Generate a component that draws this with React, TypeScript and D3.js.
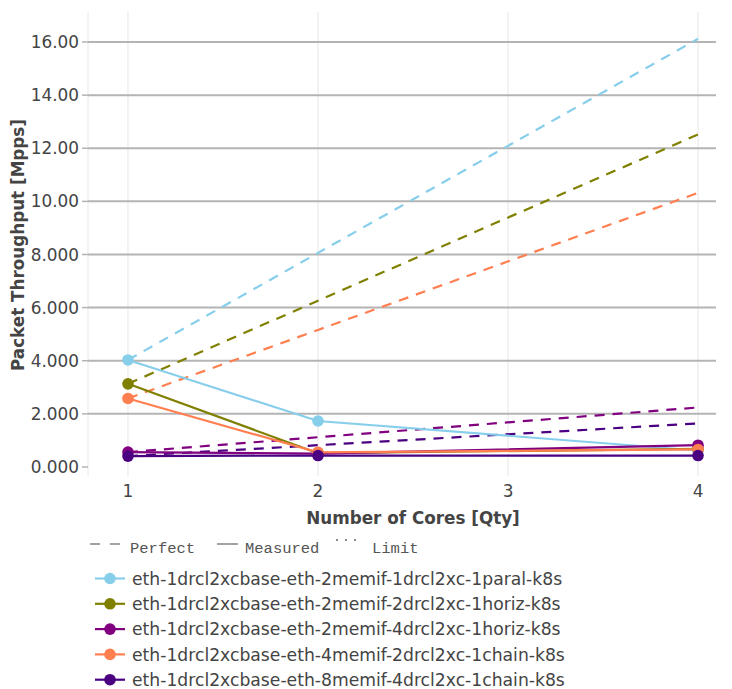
import React from "react";
import * as d3 from "d3";

const cores = [1, 2, 4];
const seriesNames = [
  "eth-1drcl2xcbase-eth-2memif-1drcl2xc-1paral-k8s",
  "eth-1drcl2xcbase-eth-2memif-2drcl2xc-1horiz-k8s",
  "eth-1drcl2xcbase-eth-2memif-4drcl2xc-1horiz-k8s",
  "eth-1drcl2xcbase-eth-4memif-2drcl2xc-1chain-k8s",
  "eth-1drcl2xcbase-eth-8memif-4drcl2xc-1chain-k8s",
];
const seriesColors = ["#87CEEB", "#808000", "#800080", "#FF7F50", "#4B0082"];

const measuredParal = [4.03, 1.73, 0.62];
const measured2Horiz = [3.13, 0.52, 0.68];
const measured4Horiz = [0.56, 0.5, 0.82];
const measured4Chain = [2.58, 0.55, 0.66];
const measured8Chain = [0.41, 0.43, 0.43];

const perfectParal = [4.03, 8.06, 16.12];
const perfect2Horiz = [3.13, 6.26, 12.52];
const perfect4Horiz = [0.56, 1.12, 2.24];
const perfect4Chain = [2.58, 5.16, 10.32];
const perfect8Chain = [0.41, 0.82, 1.64];

const measuredAll = [measuredParal, measured2Horiz, measured4Horiz, measured4Chain, measured8Chain];
const perfectAll = [perfectParal, perfect2Horiz, perfect4Horiz, perfect4Chain, perfect8Chain];

const yTickValues = [0, 2, 4, 6, 8, 10, 12, 14, 16];
const yTickLabels = ["0.000", "2.000", "4.000", "6.000", "8.000", "10.00", "12.00", "14.00", "16.00"];
const xTickValues = [1, 2, 3, 4];
const xTickLabels = ["1", "2", "3", "4"];

const W = 732;
const H = 689;
const PL = 88, PR = 716, PT = 12, PB = 476;

export default function App() {
  const x = d3.scaleLinear().domain([0.7895, 4.0947]).range([PL, PR]);
  const y = d3.scaleLinear().domain([-0.34, 17.13]).range([PB, PT]);
  const line = d3
    .line<number>()
    .x((_, i) => x(cores[i]))
    .y((d) => y(d));

  const font = "'DejaVu Sans', sans-serif";
  const mono = "'Liberation Mono', monospace";
  const legendY0 = 578.5;
  const legendStep = 25.3;

  return (
    <svg
      width={W}
      height={H}
      style={{ position: "absolute", left: 0, top: 0, background: "#fff" }}
    >
      <defs>
        <clipPath id="plotclip">
          <rect x={PL} y={PT} width={PR - PL} height={PB - PT} />
        </clipPath>
      </defs>
      {/* vertical grid */}
      <line x1={PL} x2={PL} y1={PT} y2={PB} stroke="#e8e8e8" strokeWidth={1} />
      {xTickValues.map((v) => (
        <line key={"vx" + v} x1={x(v)} x2={x(v)} y1={PT} y2={PB} stroke="#e6e6e6" strokeWidth={1} />
      ))}
      {/* horizontal grid */}
      {yTickValues.map((v) =>
        v === 0 ? null : (
          <line key={"gy" + v} x1={PL} x2={PR} y1={y(v)} y2={y(v)} stroke="#b4b4b4" strokeWidth={2} />
        )
      )}
      {yTickValues.map((v) => (
        <line key={"ty" + v} x1={PL - 6} x2={PL} y1={y(v)} y2={y(v)} stroke="#b4b4b4" strokeWidth={1.5} />
      ))}
      {yTickValues.map((v, i) => (
        <text
          key={"yl" + v}
          x={79}
          y={y(v)}
          dy="0.36em"
          textAnchor="end"
          fontFamily={font}
          fontSize={16.9}
          fill="#444"
        >
          {yTickLabels[i]}
        </text>
      ))}
      {xTickValues.map((v, i) => (
        <text
          key={"xl" + v}
          x={x(v)}
          y={497}
          textAnchor="middle"
          fontFamily={font}
          fontSize={16.9}
          fill="#444"
        >
          {xTickLabels[i]}
        </text>
      ))}
      <text
        x={413}
        y={524}
        textAnchor="middle"
        fontFamily={font}
        fontSize={16.8}
        fontWeight="bold"
        fill="#444"
      >
        Number of Cores [Qty]
      </text>
      <text
        transform={`translate(24,245) rotate(-90)`}
        textAnchor="middle"
        fontFamily={font}
        fontSize={16.8}
        fontWeight="bold"
        fill="#444"
      >
        Packet Throughput [Mpps]
      </text>

      {/* data */}
      <g clipPath="url(#plotclip)">
        {perfectAll.map((s, i) => (
          <path
            key={"p" + i}
            d={line(s) || ""}
            fill="none"
            stroke={seriesColors[i]}
            strokeWidth={2.2}
            strokeDasharray="10 8"
          />
        ))}
        {measuredAll.map((s, i) => (
          <path key={"m" + i} d={line(s) || ""} fill="none" stroke={seriesColors[i]} strokeWidth={2.2} />
        ))}
        {measuredAll.map((s, i) =>
          s.map((v, j) => (
            <circle key={"c" + i + "-" + j} cx={x(cores[j])} cy={y(v)} r={5.8} fill={seriesColors[i]} />
          ))
        )}
      </g>

      {/* line style legend */}
      <g stroke="#666" strokeWidth={1.2}>
        <line x1={90} x2={100} y1={544} y2={544} />
        <line x1={110} x2={120} y1={544} y2={544} />
        <line x1={217} x2={238} y1={544} y2={544} />
      </g>
      <g fill="#666">
        <circle cx={337} cy={540} r={1} />
        <circle cx={346} cy={540} r={1} />
        <circle cx={355} cy={540} r={1} />
      </g>
      <text x={130} y={553} fontFamily={mono} fontSize={15.5} fill="#555">Perfect</text>
      <text x={245} y={553} fontFamily={mono} fontSize={15.5} fill="#555">Measured</text>
      <text x={372} y={553} fontFamily={mono} fontSize={15.5} fill="#555">Limit</text>

      {/* series legend */}
      {seriesNames.map((name, i) => {
        const cy = legendY0 + i * legendStep;
        return (
          <g key={"lg" + i}>
            <line x1={95} x2={125} y1={cy} y2={cy} stroke={seriesColors[i]} strokeWidth={2.2} />
            <circle cx={110} cy={cy} r={5.8} fill={seriesColors[i]} />
            <text x={132} y={cy} dy="0.36em" fontFamily={font} fontSize={17.2} fill="#444">
              {name}
            </text>
          </g>
        );
      })}
    </svg>
  );
}
